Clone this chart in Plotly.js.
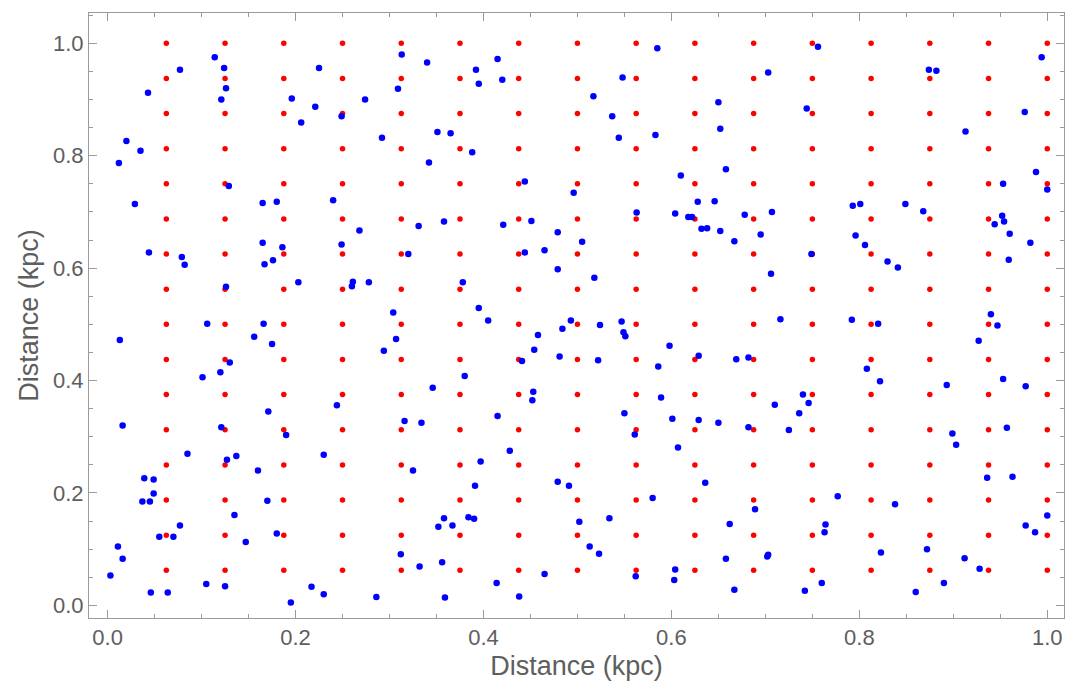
<!DOCTYPE html>
<html>
<head>
<meta charset="utf-8">
<script src="https://cdn.plot.ly/plotly-3.0.1.min.js"></script>
<style>html,body{margin:0;padding:0;background:#fff;}#chart{width:1069px;height:688px;}</style>
</head>
<body>
<div id="chart"></div>
<script>
// Regular lattice coordinates (kpc) used on both axes for the red points
const gridValues = [0.0625, 0.125, 0.1875, 0.25, 0.3125, 0.375, 0.4375, 0.5,
                    0.5625, 0.625, 0.6875, 0.75, 0.8125, 0.875, 0.9375, 1.0];

// Scattered blue points (kpc)
const blueX = [
 0.114,0.077,0.124,0.225,0.043,0.126,0.121,0.196,0.221,0.206,0.020,0.035,0.012,0.129,0.029,0.165,0.180,0.240,
 0.313,0.340,0.415,0.392,0.395,0.420,0.309,0.274,0.249,0.351,0.365,0.292,0.388,0.342,0.444,0.496,
 0.585,0.756,0.548,0.703,0.517,0.650,0.744,0.537,0.544,0.583,0.652,0.658,0.610,0.628,0.646,0.563,0.604,0.618,0.622,0.678,0.707,
 0.994,0.874,0.882,0.976,0.913,0.988,0.953,1.000,0.793,0.801,0.849,0.868,0.952,
 0.044,0.079,0.082,0.165,0.186,0.176,0.167,0.203,0.126,0.106,0.166,0.013,0.156,0.175,0.130,0.120,0.101,0.171,
 0.358,0.331,0.268,0.249,0.320,0.421,0.451,0.479,0.444,0.465,0.479,0.261,0.260,0.278,0.378,0.304,0.395,0.405,0.493,0.484,0.458,0.307,0.294,0.454,0.441,0.481,0.380,0.346,0.453,0.452,0.244,0.415,
 0.632,0.638,0.652,0.695,0.667,0.505,0.749,0.518,0.706,0.716,0.524,0.547,0.549,0.551,0.598,0.629,0.522,0.586,0.669,0.682,0.589,0.740,0.746,0.710,0.550,0.736,0.601,0.629,
 0.954,0.944,0.960,0.982,0.959,0.796,0.806,0.830,0.841,0.792,0.820,0.940,0.947,0.927,0.808,0.822,0.893,0.953,0.977,
 0.016,0.121,0.190,0.085,0.127,0.137,0.230,0.160,0.039,0.049,0.049,0.037,0.045,0.170,0.135,0.077,0.055,0.070,0.180,0.147,0.011,0.016,0.003,0.105,0.125,0.046,0.064,0.217,0.230,0.195,
 0.316,0.334,0.428,0.397,0.325,0.391,0.479,0.491,0.358,0.384,0.390,0.352,0.367,0.312,0.332,0.356,0.465,0.414,0.286,0.359,0.438,
 0.650,0.682,0.725,0.561,0.607,0.636,0.580,0.689,0.502,0.534,0.662,0.513,0.523,0.658,0.702,0.703,0.604,0.562,0.603,0.667,0.742,
 0.957,0.899,0.903,0.936,0.963,0.777,0.838,1.000,0.764,0.763,0.977,0.987,0.823,0.872,0.912,0.928,0.760,0.890,0.860
];
const blueY = [
 0.975,0.953,0.956,0.956,0.912,0.920,0.900,0.902,0.887,0.859,0.826,0.809,0.787,0.746,0.714,0.716,0.718,0.721,
 0.980,0.966,0.972,0.953,0.928,0.935,0.919,0.900,0.870,0.842,0.840,0.832,0.806,0.788,0.754,0.734,
 0.991,0.994,0.939,0.948,0.906,0.895,0.884,0.870,0.832,0.837,0.848,0.776,0.765,0.718,0.719,0.699,0.697,0.691,0.691,0.695,0.700,
 0.975,0.953,0.951,0.878,0.843,0.771,0.750,0.740,0.711,0.714,0.714,0.701,0.693,
 0.628,0.620,0.606,0.645,0.637,0.614,0.607,0.575,0.567,0.501,0.501,0.472,0.478,0.465,0.432,0.415,0.406,0.345,
 0.683,0.675,0.667,0.642,0.625,0.677,0.684,0.664,0.628,0.632,0.598,0.576,0.568,0.575,0.575,0.521,0.529,0.507,0.507,0.492,0.481,0.474,0.453,0.455,0.435,0.443,0.408,0.387,0.380,0.365,0.356,0.337,
 0.670,0.671,0.666,0.660,0.648,0.647,0.625,0.583,0.590,0.509,0.499,0.505,0.486,0.479,0.462,0.444,0.436,0.425,0.438,0.441,0.370,0.375,0.360,0.357,0.342,0.342,0.332,0.330,
 0.683,0.678,0.661,0.645,0.615,0.658,0.641,0.612,0.601,0.508,0.501,0.518,0.498,0.471,0.421,0.399,0.392,0.403,0.390,
 0.320,0.317,0.303,0.270,0.259,0.266,0.268,0.240,0.226,0.224,0.199,0.185,0.185,0.186,0.161,0.142,0.122,0.122,0.128,0.113,0.105,0.083,0.053,0.038,0.034,0.023,0.023,0.033,0.020,0.005,
 0.328,0.325,0.275,0.256,0.240,0.213,0.220,0.213,0.155,0.157,0.154,0.140,0.142,0.091,0.069,0.077,0.056,0.040,0.015,0.014,0.016,
 0.325,0.317,0.312,0.304,0.281,0.218,0.191,0.171,0.149,0.155,0.145,0.105,0.092,0.083,0.087,0.090,0.064,0.052,0.045,0.028,0.026,
 0.316,0.306,0.286,0.227,0.229,0.194,0.180,0.160,0.144,0.130,0.142,0.130,0.094,0.100,0.084,0.065,0.040,0.040,0.024
];

const tickVals = [0.0, 0.2, 0.4, 0.6, 0.8, 1.0];
const tickText = ["0.0", "0.2", "0.4", "0.6", "0.8", "1.0"];
const axisTitle = "Distance (kpc)";

// Build the lattice from the grid values
const redX = [], redY = [];
for (const gx of gridValues) for (const gy of gridValues) { redX.push(gx); redY.push(gy); }

const textGray = "#5e5e5e";
const lineGray = "#9a9a9a";
const fam = "Liberation Sans, Arial, sans-serif";

const axisCommon = {
  showgrid: false, zeroline: false,
  showline: true, linecolor: lineGray, linewidth: 1, mirror: "allticks",
  ticks: "inside", ticklen: 8, tickwidth: 1, tickcolor: lineGray,
  tickvals: tickVals, ticktext: tickText,
  tickfont: {family: fam, size: 22, color: textGray},
  minor: {ticks: "inside", dtick: 0.05, ticklen: 4, tickwidth: 1, tickcolor: lineGray, showgrid: false},
};

const data = [
  {x: redX, y: redY, type: "scatter", mode: "markers",
   marker: {color: "#ff0000", size: 5.5}, hoverinfo: "skip", showlegend: false},
  {x: blueX, y: blueY, type: "scatter", mode: "markers",
   marker: {color: "#0000ff", size: 6.5}, hoverinfo: "skip", showlegend: false}
];

const layout = {
  width: 1069, height: 688,
  margin: {l: 89, r: 5, t: 13, b: 70},
  paper_bgcolor: "#ffffff", plot_bgcolor: "#ffffff",
  showlegend: false,
  xaxis: Object.assign({}, axisCommon, {
    range: [-0.0198, 1.0178],
    title: {text: axisTitle, font: {family: fam, size: 27, color: textGray}, standoff: 6}
  }),
  yaxis: Object.assign({}, axisCommon, {
    range: [-0.0224, 1.0539],
    title: {text: axisTitle, font: {family: fam, size: 27, color: textGray}, standoff: 6}
  })
};

Plotly.newPlot("chart", data, layout, {displayModeBar: false, staticPlot: true});
</script>
</body>
</html>
